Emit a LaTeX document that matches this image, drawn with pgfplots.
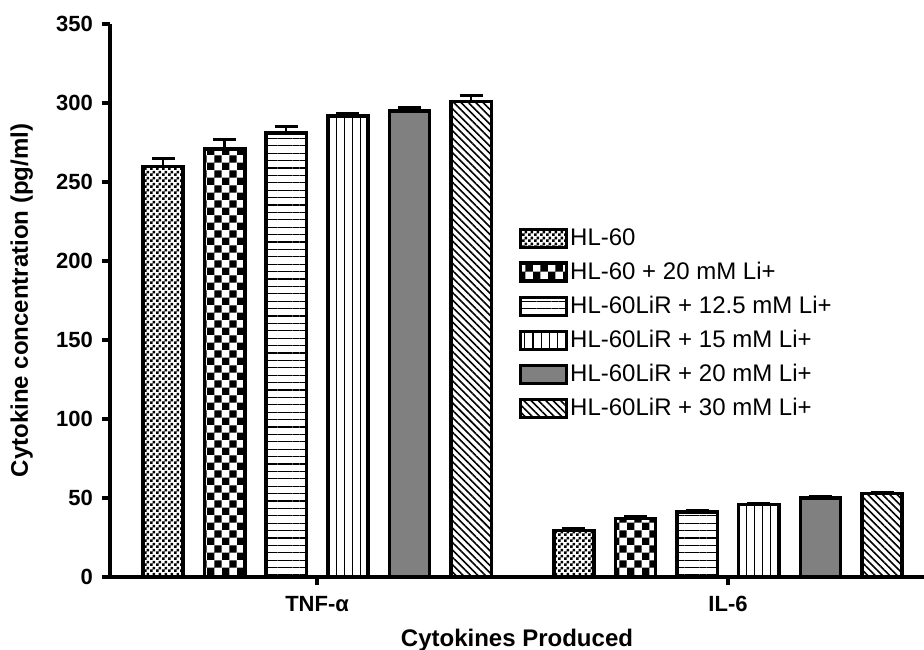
\documentclass[border=0pt]{standalone}
\usepackage{fontspec}
\setmainfont{Liberation Sans}
\usepackage{pgfplots}
\pgfplotsset{compat=1.18}
\usetikzlibrary{patterns,patterns.meta}

\pgfdeclarepatternformonly{finecheck}{\pgfqpoint{0pt}{0pt}}{\pgfqpoint{3pt}{3pt}}{\pgfqpoint{3pt}{3pt}}{%
  \pgfpathrectangle{\pgfqpoint{0pt}{0pt}}{\pgfqpoint{1.5pt}{1.5pt}}%
  \pgfpathrectangle{\pgfqpoint{1.5pt}{1.5pt}}{\pgfqpoint{1.5pt}{1.5pt}}%
  \pgfusepath{fill}}
\pgfdeclarepatternformonly{coarsecheck}{\pgfqpoint{0pt}{0pt}}{\pgfqpoint{7.4pt}{7.4pt}}{\pgfqpoint{7.4pt}{7.4pt}}{%
  \pgfpathrectangle{\pgfqpoint{0pt}{0pt}}{\pgfqpoint{3.7pt}{3.7pt}}%
  \pgfpathrectangle{\pgfqpoint{3.7pt}{3.7pt}}{\pgfqpoint{3.7pt}{3.7pt}}%
  \pgfusepath{fill}}

\pgfplotstableread{
x y e
-0.375 260 5
0.625 29.5 1
}\sA
\pgfplotstableread{
x y e
-0.225 271 6
0.775 37 1.2
}\sB
\pgfplotstableread{
x y e
-0.075 281 4.5
0.925 41 1
}\sC
\pgfplotstableread{
x y e
0.075 292 1.5
1.075 46 0.8
}\sD
\pgfplotstableread{
x y e
0.225 295 2.5
1.225 50 1
}\sE
\pgfplotstableread{
x y e
0.375 301 4
1.375 53 0.8
}\sF

\begin{document}
\begin{tikzpicture}
\useasboundingbox (-55pt,-36pt) rectangle (407pt,288.5pt);
\begin{axis}[
  at={(0pt,0pt)}, anchor=south west,
  scale only axis, width=407pt, height=276.4pt,
  xmin=-0.504, xmax=1.477, ymin=0, ymax=350,
  axis x line=bottom, axis y line=left,
  axis line style={line width=2pt, -},
  xtick={0,1}, xticklabels={TNF-α, IL-6},
  ytick={0,50,...,350},
  tick align=outside, major tick length=4pt,
  tick style={line width=2pt, black},
  /pgf/number format/assume math mode=true,
  ticklabel style={font=\bfseries\fontsize{11pt}{13pt}\selectfont},
  yticklabel style={xshift=-1pt},
  xticklabel style={yshift=-2pt},
  xlabel={Cytokines Produced},
  ylabel={Cytokine concentration (pg/ml)},
  label style={font=\bfseries\fontsize{12pt}{14pt}\selectfont},
  xlabel style={at={(rel axis cs:0.5,0)}, anchor=base, yshift=-34.5pt},
  ylabel style={at={(rel axis cs:0,0.5)}, anchor=base, yshift=41pt},
  clip=false,
  legend cell align=left,
  legend style={draw=none, fill=none, at={(rel axis cs:0.502,0.637)}, anchor=north west,
    font=\fontsize{12pt}{14pt}\selectfont, row sep=3.9pt, inner sep=0pt,
    nodes={inner xsep=1pt, inner ysep=1.5pt}},
  legend image code/.code={\draw[#1, line width=1.6pt] (0pt,-4.5pt) rectangle (23pt,4.5pt);},
  every axis plot/.append style={ybar, bar width=0.098, bar shift=0pt, draw=black, line width=1.8pt,
    error bars/y dir=plus, error bars/y explicit,
    error bars/error bar style={line width=1.2pt, black, solid},
    error bars/error mark=|,
    error bars/error mark options={line width=1.5pt, mark size=5.75pt, black}},
]
\addplot[pattern=finecheck, pattern color=black] table[x=x,y=y,y error=e]{\sA};
\addlegendentry{HL-60}
\addplot[pattern=coarsecheck, pattern color=black] table[x=x,y=y,y error=e]{\sB};
\addlegendentry{HL-60 + 20 mM Li+}
\addplot[pattern={Lines[angle=0,distance=3.7pt,line width=0.6pt]}, pattern color=black] table[x=x,y=y,y error=e]{\sC};
\addlegendentry{HL-60LiR + 12.5 mM Li+}
\addplot[pattern={Lines[angle=90,distance=4.1pt,line width=0.6pt]}, pattern color=black] table[x=x,y=y,y error=e]{\sD};
\addlegendentry{HL-60LiR + 15 mM Li+}
\addplot[fill={rgb,255:red,128;green,128;blue,128}] table[x=x,y=y,y error=e]{\sE};
\addlegendentry{HL-60LiR + 20 mM Li+}
\addplot[pattern={Lines[angle=-45,distance=2.6pt,line width=0.8pt]}, pattern color=black] table[x=x,y=y,y error=e]{\sF};
\addlegendentry{HL-60LiR + 30 mM Li+}
\end{axis}
\end{tikzpicture}
\end{document}
